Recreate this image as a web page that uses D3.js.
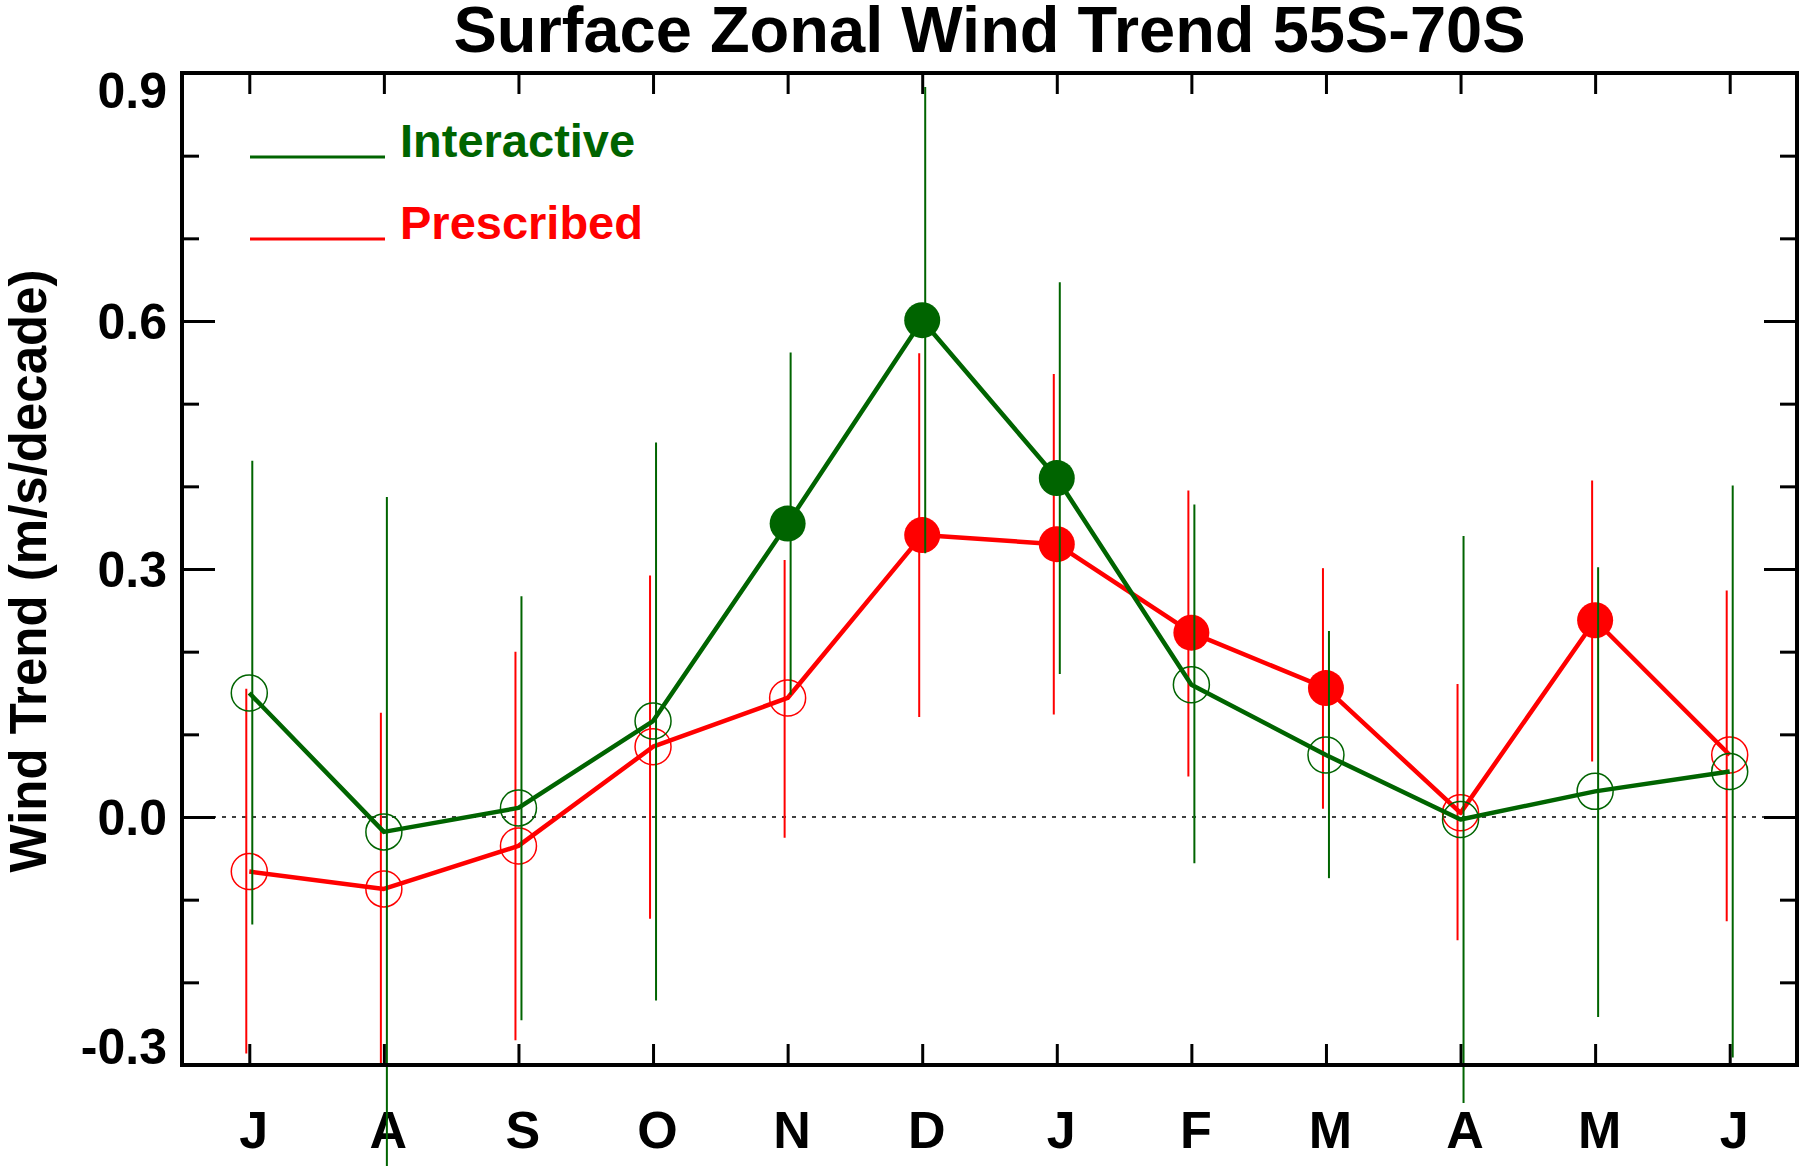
<!DOCTYPE html>
<html>

<head>
    <meta charset="utf-8">
    <title>Surface Zonal Wind Trend 55S-70S</title>
    <script src="https://cdn.jsdelivr.net/npm/d3@7"></script>
    <style>
        body {
            margin: 0;
            background: white;
        }

        text {
            font-family: 'Liberation Sans', Arial, Helvetica, sans-serif;
            font-weight: bold;
        }
    </style>
</head>

<body>
    <div id="visDiv"></div>
</body>
<script>
    /* Data */
    var months = ["J", "A", "S", "O", "N", "D", "J", "F", "M", "A", "M", "J"];

    var interactive = [0.150, -0.018, 0.011, 0.116, 0.355, 0.601, 0.410, 0.160, 0.075, -0.003, 0.031, 0.055];
    var interactiveLow = [-0.130, -0.423, -0.246, -0.222, 0.148, 0.319, 0.173, -0.056, -0.074, -0.346, -0.242, -0.291];
    var interactiveHigh = [0.431, 0.387, 0.267, 0.453, 0.562, 0.883, 0.647, 0.378, 0.225, 0.340, 0.302, 0.401];
    var interactiveSig = [false, false, false, false, true, true, true, false, false, false, false, false];

    var prescribed = [-0.066, -0.087, -0.035, 0.085, 0.144, 0.341, 0.330, 0.223, 0.156, 0.005, 0.238, 0.075];
    var prescribedLow = [-0.286, -0.300, -0.270, -0.123, -0.025, 0.121, 0.124, 0.049, 0.010, -0.149, 0.067, -0.126];
    var prescribedHigh = [0.155, 0.126, 0.200, 0.292, 0.311, 0.561, 0.536, 0.395, 0.301, 0.161, 0.407, 0.274];
    var prescribedSig = [false, false, false, false, false, true, true, true, true, false, true, false];

    var yMajor = [-0.3, 0.0, 0.3, 0.6, 0.9];
    var yMinor = [-0.2, -0.1, 0.1, 0.2, 0.4, 0.5, 0.7, 0.8];

    var green = "#006400", red = "#ff0000";

    /* Layout constants */
    var W = 1800, H = 1166;
    var plot = { left: 182, right: 1797, top: 73, bottom: 1065 };

    var svg = d3.select("#visDiv")
        .append("svg")
        .attr("width", W)
        .attr("height", H);

    /* Scales */
    var x = d3.scaleLinear()
        .domain([-0.5, 11.5])
        .range([plot.left, plot.right]);
    var y = d3.scaleLinear()
        .domain([-0.3, 0.9])
        .range([plot.bottom, plot.top]);

    /* Axes - all ticks point inward */
    function styleAxis(g) {
        g.select(".domain").remove();
        g.selectAll(".tick line").attr("stroke", "black").attr("stroke-width", 3);
        g.selectAll(".tick text").attr("fill", "black");
    }

    var yLeft = svg.append("g")
        .attr("transform", "translate(" + plot.left + ",0)")
        .call(d3.axisLeft(y).tickValues(yMajor).tickSizeInner(-33).tickSizeOuter(0).tickPadding(15)
            .tickFormat(function (d) { return d.toFixed(1); }))
        .call(styleAxis);
    yLeft.selectAll(".tick text")
        .style("font-size", "50px")
        .attr("dy", function (d) {
            if (d === 0.9) return "0.68em";
            if (d === -0.3) return "-0.04em";
            return "0.34em";
        });

    svg.append("g")
        .attr("transform", "translate(" + plot.left + ",0)")
        .call(d3.axisLeft(y).tickValues(yMinor).tickSizeInner(-17).tickSizeOuter(0).tickFormat(""))
        .call(styleAxis);

    svg.append("g")
        .attr("transform", "translate(" + plot.right + ",0)")
        .call(d3.axisRight(y).tickValues(yMajor).tickSizeInner(-33).tickSizeOuter(0).tickFormat(""))
        .call(styleAxis);
    svg.append("g")
        .attr("transform", "translate(" + plot.right + ",0)")
        .call(d3.axisRight(y).tickValues(yMinor).tickSizeInner(-17).tickSizeOuter(0).tickFormat(""))
        .call(styleAxis);

    var xBottom = svg.append("g")
        .attr("transform", "translate(0," + plot.bottom + ")")
        .call(d3.axisBottom(x).tickValues(d3.range(12)).tickSizeInner(-21).tickSizeOuter(0).tickPadding(46)
            .tickFormat(function (i) { return months[i]; }))
        .call(styleAxis);
    xBottom.selectAll(".tick text")
        .style("font-size", "52px")
        .attr("dx", 4);

    svg.append("g")
        .attr("transform", "translate(0," + plot.top + ")")
        .call(d3.axisTop(x).tickValues(d3.range(12)).tickSizeInner(-21).tickSizeOuter(0).tickFormat(""))
        .call(styleAxis);

    /* zero line */
    svg.append("line")
        .attr("x1", plot.left).attr("x2", plot.right)
        .attr("y1", y(0)).attr("y2", y(0))
        .attr("stroke", "black")
        .attr("stroke-width", 1.5)
        .attr("stroke-dasharray", "4,6");

    /* Series */
    function drawSeries(vals, lo, hi, sig, color, offset) {
        var idx = d3.range(vals.length);

        svg.append("path")
            .datum(idx)
            .attr("fill", "none")
            .attr("stroke", color)
            .attr("stroke-width", 4.5)
            .attr("stroke-linejoin", "round")
            .attr("d", d3.line()
                .x(function (i) { return x(i); })
                .y(function (i) { return y(vals[i]); }));

        svg.append("g").selectAll("line")
            .data(idx)
            .enter()
            .append("line")
            .attr("x1", function (i) { return x(i) + offset; })
            .attr("x2", function (i) { return x(i) + offset; })
            .attr("y1", function (i) { return y(lo[i]); })
            .attr("y2", function (i) { return y(hi[i]); })
            .attr("stroke", color)
            .attr("stroke-width", 2);

        svg.append("g").selectAll("circle")
            .data(idx)
            .enter()
            .append("circle")
            .attr("cx", function (i) { return x(i); })
            .attr("cy", function (i) { return y(vals[i]); })
            .attr("r", 18)
            .attr("fill", function (i) { return sig[i] ? color : "none"; })
            .attr("stroke", color)
            .attr("stroke-width", function (i) { return sig[i] ? 0 : 1.5; });
    }

    drawSeries(prescribed, prescribedLow, prescribedHigh, prescribedSig, red, -3);
    drawSeries(interactive, interactiveLow, interactiveHigh, interactiveSig, green, 3);

    /* Frame */
    svg.append("rect")
        .attr("x", plot.left)
        .attr("y", plot.top)
        .attr("width", plot.right - plot.left)
        .attr("height", plot.bottom - plot.top)
        .attr("fill", "none")
        .attr("stroke", "black")
        .attr("stroke-width", 4);

    /* Legend */
    var legend = [
        { label: "Interactive", color: green, y: 157 },
        { label: "Prescribed", color: red, y: 239 }
    ];
    legend.forEach(function (d) {
        svg.append("line")
            .attr("x1", 250).attr("x2", 385)
            .attr("y1", d.y).attr("y2", d.y)
            .attr("stroke", d.color)
            .attr("stroke-width", 3);
        svg.append("text")
            .attr("x", 400)
            .attr("y", d.y)
            .attr("fill", d.color)
            .style("font-size", "47px")
            .text(d.label);
    });

    /* Titles */
    svg.append("text")
        .attr("x", (plot.left + plot.right) / 2)
        .attr("y", 52)
        .attr("text-anchor", "middle")
        .style("font-size", "65px")
        .text("Surface Zonal Wind Trend 55S-70S");

    svg.append("text")
        .attr("transform", "translate(46," + ((plot.top + plot.bottom) / 2 + 2) + ") rotate(-90)")
        .attr("text-anchor", "middle")
        .style("font-size", "51px")
        .text("Wind Trend (m/s/decade)");
</script>

</html>
